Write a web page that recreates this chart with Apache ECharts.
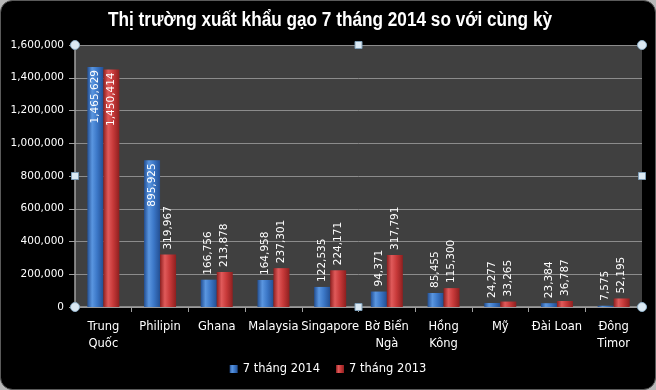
<!DOCTYPE html>
<html><head><meta charset="utf-8">
<script src="https://cdn.jsdelivr.net/npm/echarts@6/dist/echarts.min.js"></script>
<style>html,body{margin:0;padding:0;background:#b8b8b8;}#c{width:656px;height:390px;}</style>
</head><body><div id="c"></div>
<script>
const categories = ["Trung\nQuốc","Philipin","Ghana","Malaysia","Singapore","Bờ Biển\nNgà","Hồng\nKông","Mỹ","Đài Loan","Đông\nTimor"];
const values2014 = [1465629, 895925, 166756, 164958, 122535, 94371, 85455, 24277, 23384, 7575];
const values2013 = [1450414, 319967, 213878, 237301, 224171, 317791, 115300, 33265, 36787, 52195];
const seriesNames = ["7 tháng 2014", "7 tháng 2013"];
const titleText = 'Thị trường xuất khẩu gạo 7 tháng 2014 so với cùng kỳ';
const yTicks = {min: 0, max: 1600000, interval: 200000};

const fmt = v => v.toLocaleString('en-US');
const labelFont = {fontFamily: 'DejaVu Sans', fontSize: 10.5, color: '#ffffff'};

function mkData(vals) {
  return vals.map(v => {
    const inside = v > 500000;
    return {
      value: v,
      label: inside
        ? {position: 'insideTop', rotate: 90, align: 'right', verticalAlign: 'middle', distance: 3}
        : {position: 'top', rotate: 90, align: 'left', verticalAlign: 'middle', distance: 5}
    };
  });
}
function grad(edge, mid, light) {
  return new echarts.graphic.LinearGradient(0, 0, 1, 0, [
    {offset: 0, color: edge}, {offset: 0.3, color: light}, {offset: 0.6, color: mid}, {offset: 1, color: edge}
  ]);
}
const blue = grad('#234f93', '#3c78c8', '#5a96e0');
const red = grad('#8e1f1f', '#c83a3a', '#e05a5a');

const chart = echarts.init(document.getElementById('c'), null, {renderer: 'canvas'});
const L = 75, R = 642, T = 45, B = 307;
const hc = '#dbe9f3';
const handles = [];
[[L,T],[R,T],[L,B],[R,B]].forEach(p => handles.push({type:'circle', shape:{cx:p[0], cy:p[1], r:4.5}, style:{fill:hc, stroke:'#8fb0c8', lineWidth:1}, z:100}));
[[(L+R)/2,T],[L,(T+B)/2],[R,(T+B)/2],[(L+R)/2,B]].forEach(p => handles.push({type:'rect', shape:{x:p[0]-3.5, y:p[1]-3.5, width:7, height:7}, style:{fill:hc, stroke:'#7f9fb8', lineWidth:1}, z:100}));

chart.setOption({
  backgroundColor: 'transparent',
  graphic: [
    {type: 'rect', shape: {x: 0.5, y: 0.5, width: 655, height: 389, r: 12}, style: {fill: '#000000', stroke: '#5a5a5a', lineWidth: 1}, z: -10, silent: true},
    {type: 'text', x: 330, y: 20, scaleX: 0.86, scaleY: 1, originX: 0, originY: 0,
     style: {text: titleText, fill: '#ffffff', font: 'bold 20px "Liberation Sans"', textAlign: 'center', textVerticalAlign: 'middle'}, z: 50},
    ...handles
  ],
  legend: {
    data: seriesNames, bottom: 10, left: 'center',
    itemWidth: 8, itemHeight: 8, itemGap: 16,
    textStyle: {color: '#ffffff', fontFamily: 'DejaVu Sans', fontSize: 11.5},
    icon: 'rect'
  },
  grid: {left: L, right: 656 - R, top: T, bottom: 390 - B, show: true, backgroundColor: '#404040', borderWidth: 0},
  xAxis: {
    type: 'category', data: categories,
    axisLine: {lineStyle: {color: '#a0a0a0', width: 1.5}},
    axisTick: {show: true, length: 5, lineStyle: {color: '#a0a0a0'}},
    axisLabel: {color: '#ffffff', fontFamily: 'DejaVu Sans', fontSize: 11.5, interval: 0, margin: 12, lineHeight: 17}
  },
  yAxis: {
    type: 'value', min: yTicks.min, max: yTicks.max, interval: yTicks.interval,
    axisLine: {show: true, lineStyle: {color: '#a0a0a0', width: 1.5}},
    axisTick: {show: true, length: 6, lineStyle: {color: '#a0a0a0'}},
    splitLine: {lineStyle: {color: '#8c8c8c', width: 1}},
    axisLabel: {color: '#ffffff', fontFamily: 'DejaVu Sans', fontSize: 10.5, margin: 11, formatter: fmt}
  },
  series: [
    {name: seriesNames[0], type: 'bar', data: mkData(values2014), barWidth: 16, barGap: '0%',
     itemStyle: {color: blue},
     label: {show: true, ...labelFont, formatter: p => fmt(p.value)}},
    {name: seriesNames[1], type: 'bar', data: mkData(values2013), barWidth: 16,
     itemStyle: {color: red},
     label: {show: true, ...labelFont, formatter: p => fmt(p.value)}}
  ]
});
</script></body></html>
